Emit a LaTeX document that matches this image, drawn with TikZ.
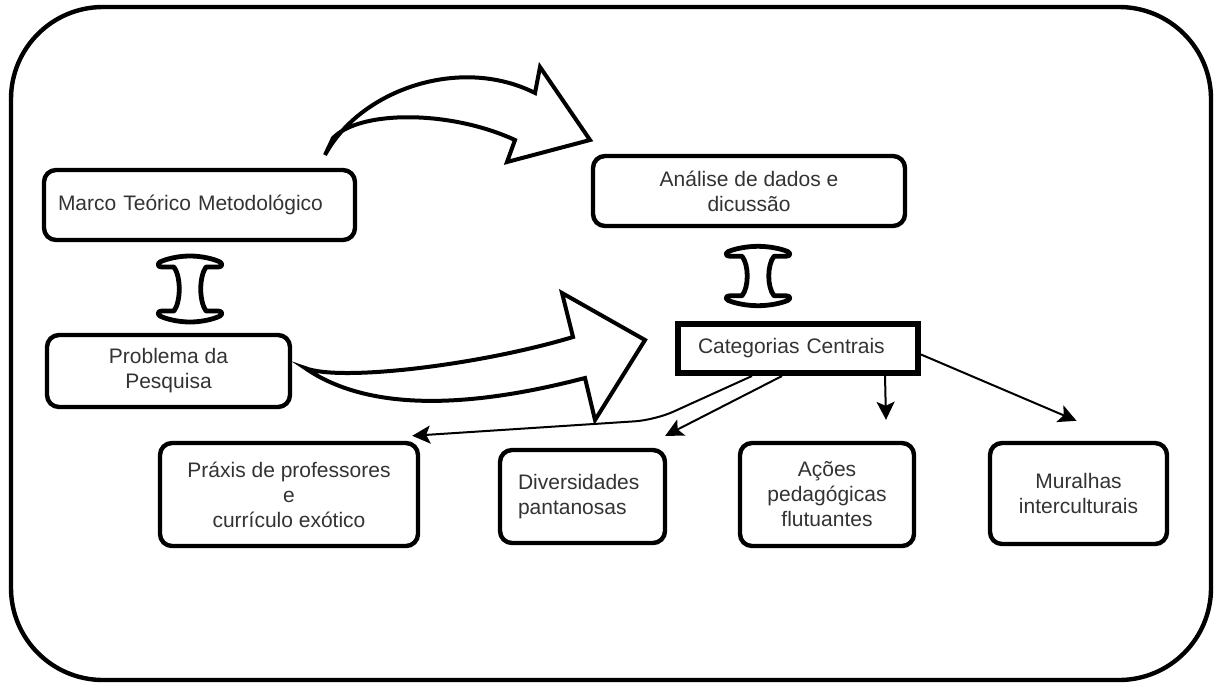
\documentclass[tikz,border=0pt]{standalone}
\usepackage{fontspec}
\setmainfont{Liberation Sans}
\usetikzlibrary{arrows.meta,calc}
\definecolor{txt}{HTML}{333333}
\begin{document}
\begin{tikzpicture}[x=0.5pt,y=-0.5pt,
  box/.style={draw, line width=2.2pt, rounded corners=6pt, fill=white,
    font=\fontsize{10.5}{12.5}\selectfont, text=txt, align=center, inner sep=0pt},
  catbox/.style={draw, line width=3pt, fill=white,
    font=\fontsize{10.5}{12.5}\selectfont, text=txt, align=left, inner ysep=0pt},
  conn/.style={line width=1pt, -{Stealth[length=9pt,width=9pt,inset=2pt]}},
  bigarrow/.style={draw, line width=2pt, fill=white, line join=miter},
  pics/dblarrow/.style={code={
    \draw[line width=2.4pt, fill=white, line join=round]
      (0,-33) .. controls (12,-33) and (24,-30) .. (30,-27)
      .. controls (33,-25) and (32,-22) .. (28,-22)
      -- (16,-22)
      .. controls (9,-12) and (9,12) .. (16,22)
      -- (28,22)
      .. controls (32,22) and (33,25) .. (30,27)
      .. controls (24,30) and (12,33) .. (0,33)
      .. controls (-12,33) and (-24,30) .. (-30,27)
      .. controls (-33,25) and (-32,22) .. (-28,22)
      -- (-16,22)
      .. controls (-9,12) and (-9,-12) .. (-16,-22)
      -- (-28,-22)
      .. controls (-32,-22) and (-33,-25) .. (-30,-27)
      .. controls (-24,-30) and (-12,-33) .. (0,-33) -- cycle;
  }}
]
\useasboundingbox (0,0) rectangle (1218,686);
% outer frame
\draw[line width=2.2pt, rounded corners=46pt] (11,7) rectangle (1211,680);

% big curved arrows
\draw[bigarrow] (325,155) .. controls (360,90) and (460,55) .. (535,93)
  -- (540,67) -- (590,140) -- (507,162) -- (515,140)
  .. controls (450,110) and (360,110) .. (333,138) -- cycle;
\draw[bigarrow] (305,368) .. controls (340,382) and (480,365) .. (573,337)
  -- (562,293) -- (645,340) -- (595,420) -- (585,378)
  .. controls (500,400) and (380,420) .. (305,368) -- cycle;

% double arrows
\pic at (190,289) {dblarrow};
\pic[yscale=0.9] at (758,276) {dblarrow};

% boxes
\node[box, minimum width=155.5pt, minimum height=35pt, text width=141.5pt,
  align=left, inner xsep=7pt] (marco) at (199.5,205) {Marco Teórico Metodológico};
\node[box, minimum width=121.5pt, minimum height=36pt] (prob) at (168.5,371)
  {Problema da\\Pesquisa};
\node[box, minimum width=156pt, minimum height=35pt] (anal) at (749,191)
  {Análise de dados e\\dicussão};
\node[catbox, minimum width=120pt, minimum height=24.5pt, text width=100pt,
  inner xsep=10pt] (cat) at (798,348.5) {Categorias Centrais};

\node[box, minimum width=129pt, minimum height=51.5pt] (prax) at (289,494.5)
  {Práxis de professores\\e\\currículo exótico};
\node[box, minimum width=82.5pt, minimum height=46.5pt, text width=64.5pt,
  align=left, inner xsep=9pt] (div) at (582.5,496.5) {Diversidades\\pantanosas};
\node[box, minimum width=87pt, minimum height=51.5pt] (acoes) at (827,494.5)
  {Ações\\pedagógicas\\flutuantes};
\node[box, minimum width=88.5pt, minimum height=50.5pt] (mur) at (1078.5,493.5)
  {Muralhas\\interculturais};

% connectors
\draw[conn, rounded corners=10pt] ($(cat.south)+(-46,0)$) -- (655,420)
  -- ($(prax.north east)+(-8,-5)$);
\draw[conn] ($(cat.south)+(-16,0)$) -- ($(div.north east)+(-2,-12)$);
\draw[conn] ($(cat.south)+(87,0)$) -- ($(acoes.north)+(59,-21)$);
\draw[conn] ($(cat.east)+(0,6)$) -- ($(mur.north)+(-2,-20)$);
\end{tikzpicture}
\end{document}
